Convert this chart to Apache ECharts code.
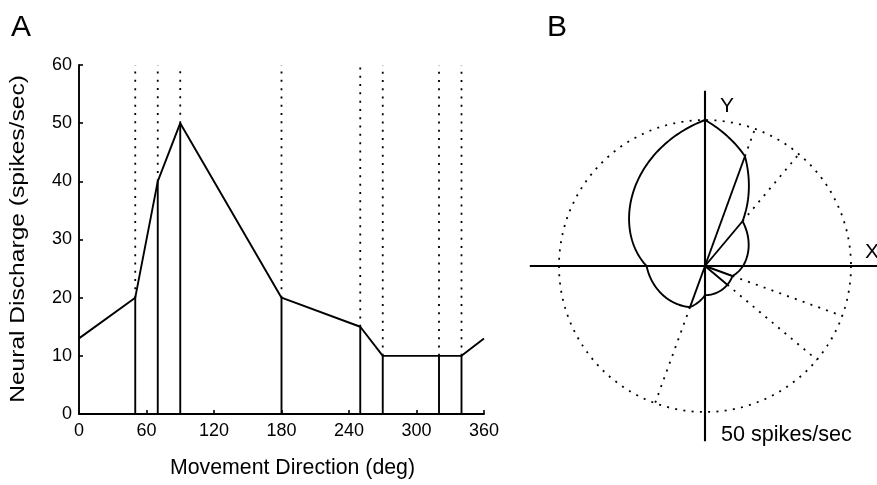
<!DOCTYPE html>
<html>
<head>
<meta charset="utf-8">
<script src="https://cdn.jsdelivr.net/npm/echarts@6/dist/echarts.min.js"></script>
<style>
  html, body { margin: 0; padding: 0; background: #fff; }
  #chart { width: 877px; height: 485px; }
</style>
</head>
<body>
<div id="chart"></div>
<script>
// Measured movement directions (deg) and discharge rates (spikes/sec)
const directions = [50, 70, 90, 180, 250, 270, 320, 340]
const rates      = [20, 40, 50, 20, 15, 10, 10, 10]
// value of the curve where it wraps at 0 / 360 deg
const edgeRate   = 13
const xTicks     = [0, 60, 120, 180, 240, 300, 360]
const yTicks     = [0, 10, 20, 30, 40, 50, 60]
const rateMax    = 60   // top of panel A
const circleRate = 50   // dotted reference circle in panel B
const axisReach  = 60   // X / Y axes of panel B

const FONT = '"Liberation Sans", Arial, Helvetica, sans-serif'
const INK  = '#000'
const LW   = 1.9
const DOTS = [2, 6.3]

// ── Data points ───────────────────────────────────────────
const curvePts = [[0, edgeRate], ...directions.map((d, i) => [d, rates[i]]), [360, edgeRate]]
const stemPts  = directions.map((d, i) => [d, rates[i]])

// ── Panel A: stems (solid up to value, dotted to the top) ─
function renderStemA(params, api) {
  const d = api.value(0), v = api.value(1)
  const p0 = api.coord([d, 0]), p1 = api.coord([d, v]), p2 = api.coord([d, rateMax])
  return {
    type: 'group',
    children: [
      { type: 'line', shape: { x1: p1[0], y1: p1[1], x2: p2[0], y2: p2[1] },
        style: { stroke: INK, lineWidth: 1.8, lineDash: DOTS } },
      { type: 'line', shape: { x1: p0[0], y1: p0[1], x2: p1[0], y2: p1[1] },
        style: { stroke: INK, lineWidth: LW } },
    ],
  }
}

// ── Panel B: polar tuning curve, spokes and axes ─────────
// polar data is [radius, angle]
function renderCurveB(params, api) {
  const i = params.dataIndex
  if (i >= curvePts.length - 1) return null
  const [a0, r0] = curvePts[i], [a1, r1] = curvePts[i + 1]
  const pts = []
  const steps = Math.max(2, Math.round(a1 - a0))
  for (let k = 0; k <= steps; k++) {
    const t = k / steps
    pts.push(api.coord([r0 + (r1 - r0) * t, a0 + (a1 - a0) * t]))
  }
  return { type: 'polyline', shape: { points: pts }, style: { stroke: INK, lineWidth: LW, fill: null } }
}

function renderSpokeB(params, api) {
  const r = api.value(0), a = api.value(1)
  const c = api.coord([0, a]), tip = api.coord([r, a]), out = api.coord([circleRate, a])
  return {
    type: 'group',
    children: [
      { type: 'line', shape: { x1: tip[0], y1: tip[1], x2: out[0], y2: out[1] },
        style: { stroke: INK, lineWidth: 1.8, lineDash: DOTS } },
      { type: 'line', shape: { x1: c[0], y1: c[1], x2: tip[0], y2: tip[1] },
        style: { stroke: INK, lineWidth: LW } },
    ],
  }
}

function renderAxesB(params, api) {
  const a = api.value(1)
  const p = api.coord([axisReach, a]), q = api.coord([axisReach, a + 180])
  return { type: 'line', shape: { x1: p[0], y1: p[1], x2: q[0], y2: q[1] }, style: { stroke: INK, lineWidth: 2.1 } }
}

const label = (text, left, top, size) => ({
  type: 'text', left, top,
  style: { text, fontFamily: FONT, fontSize: size, fill: INK },
})

const chart = echarts.init(document.getElementById('chart'), null, { renderer: 'canvas' })
chart.setOption({
  backgroundColor: '#fff',
  animation: false,
  textStyle: { fontFamily: FONT, color: INK },
  grid: { left: 79, top: 65, width: 405, height: 349, containLabel: false },
  xAxis: {
    type: 'value', min: xTicks[0], max: xTicks[xTicks.length - 1], interval: 60,
    name: 'Movement Direction (deg)', nameLocation: 'middle', nameGap: 44,
    nameTextStyle: { fontSize: 21.3, color: INK, fontFamily: FONT, padding: [0, 0, 0, 22] },
    axisLine: { lineStyle: { color: INK, width: LW } },
    axisTick: { inside: true, length: 4, lineStyle: { color: INK, width: 1.6 } },
    axisLabel: { fontSize: 18, color: INK, fontFamily: FONT, margin: 8 },
    splitLine: { show: false },
  },
  yAxis: {
    type: 'value', min: yTicks[0], max: yTicks[yTicks.length - 1], interval: 10,
    axisLine: { lineStyle: { color: INK, width: LW } },
    axisTick: { inside: true, length: 4, lineStyle: { color: INK, width: 1.6 } },
    axisLabel: { fontSize: 18, color: INK, fontFamily: FONT, margin: 7 },
    splitLine: { show: false },
  },
  polar: { center: [705, 266], radius: 146 },
  angleAxis: {
    type: 'value', min: 0, max: 360, startAngle: 0, clockwise: false,
    axisLine: { lineStyle: { color: INK, width: 1.8, type: DOTS } },
    axisTick: { show: false }, axisLabel: { show: false }, splitLine: { show: false },
  },
  radiusAxis: { type: 'value', min: 0, max: circleRate, show: false },
  graphic: [
    // y axis title, stretched along its length like the source figure
    {
      type: 'text', x: 18, y: 239, rotation: Math.PI / 2, scaleX: 1.17,
      style: {
        text: 'Neural Discharge (spikes/sec)', fontFamily: FONT, fontSize: 21, fill: INK,
        align: 'center', verticalAlign: 'middle',
      },
    },
    label('A', 11, 13, 30),
    label('B', 547, 13, 30),
    label('Y', 720, 96, 21),
    label('X', 865, 242, 21),
    label('50 spikes/sec', 721, 424, 21.6),
  ],
  series: [
    {
      type: 'custom', name: 'stems', renderItem: renderStemA,
      data: stemPts, silent: true,
    },
    {
      type: 'line', name: 'tuning', data: curvePts, symbol: 'none',
      lineStyle: { color: INK, width: LW }, silent: true,
    },
    {
      type: 'custom', name: 'axesB', coordinateSystem: 'polar', renderItem: renderAxesB,
      data: [[axisReach, 0], [axisReach, 90]], silent: true,
    },
    {
      type: 'custom', name: 'spokesB', coordinateSystem: 'polar', renderItem: renderSpokeB,
      data: stemPts.map(([d, v]) => [v, d]), silent: true,
    },
    {
      type: 'custom', name: 'curveB', coordinateSystem: 'polar', renderItem: renderCurveB,
      data: curvePts.map(([d, v]) => [v, d]), silent: true,
    },
  ],
})
</script>
</body>
</html>
